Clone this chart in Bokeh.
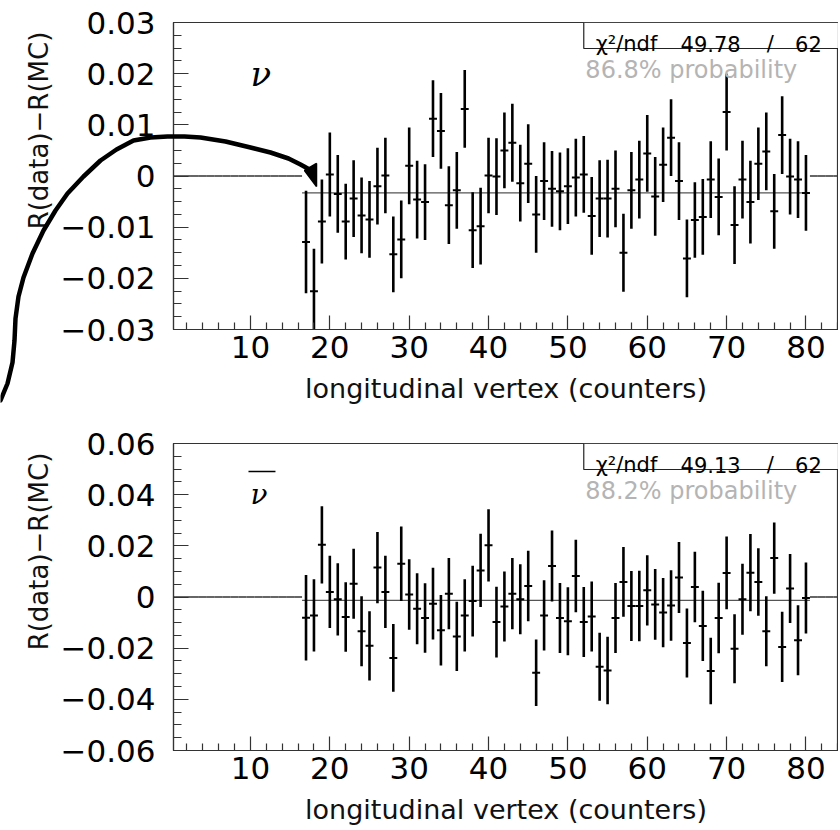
import numpy as np
from bokeh.plotting import figure
from bokeh.layouts import column
from bokeh.models import (Range1d, FixedTicker, Label, BoxAnnotation, ColumnDataSource)
from bokeh.embed import file_html
from bokeh.resources import INLINE

# ---------------- data ----------------
bins = list(range(17, 81))
empty_bins = list(range(0, 17)) + list(range(81, 85))

nu_val = [-0.0129, -0.0225, -0.0089, 0.0003, -0.0035, -0.0089, -0.0044, -0.0077,
          -0.0085, -0.0020, 0.0001, -0.0153, -0.0124, 0.0020, -0.0046, -0.0051,
          0.0112, 0.0088, -0.0057, -0.0028, 0.0131, -0.0106, -0.0098, 0.0001,
          -0.0001, 0.0050, 0.0065, -0.0014, 0.0024, -0.0075, -0.0010, -0.0025,
          -0.0030, -0.0020, -0.0003, 0.0003, -0.0078, -0.0044, -0.0044, -0.0025,
          -0.0150, -0.0028, -0.0007, 0.0044, -0.0040, 0.0022, 0.0075, -0.0010,
          -0.0161, -0.0086, -0.0080, -0.0007, -0.0041, 0.0125, -0.0096, -0.0007,
          -0.0051, 0.0024, 0.0048, -0.0069, 0.0080, -0.0001, -0.0007, -0.0033]
nu_err = [0.0100, 0.0083, 0.0082, 0.0082, 0.0076, 0.0074, 0.0075, 0.0074,
          0.0075, 0.0075, 0.0074, 0.0074, 0.0076, 0.0075, 0.0076, 0.0074,
          0.0075, 0.0074, 0.0076, 0.0075, 0.0076, 0.0074, 0.0075, 0.0074,
          0.0075, 0.0074, 0.0076, 0.0075, 0.0077, 0.0075, 0.0076, 0.0074,
          0.0076, 0.0074, 0.0076, 0.0075, 0.0076, 0.0075, 0.0076, 0.0075,
          0.0076, 0.0075, 0.0076, 0.0075, 0.0077, 0.0073, 0.0075, 0.0076,
          0.0076, 0.0074, 0.0074, 0.0075, 0.0075, 0.0075, 0.0076, 0.0076,
          0.0081, 0.0071, 0.0076, 0.0073, 0.0076, 0.0074, 0.0075, 0.0074]

nubar_val = [-0.0081, -0.0072, 0.0204, 0.0020, -0.0009, -0.0078, 0.0052, -0.0134,
             -0.0191, 0.0115, 0.0020, -0.0238, 0.0130, 0.0010, -0.0046, -0.0082,
             -0.0026, -0.0130, 0.0013, -0.0154, -0.0072, -0.0016, 0.0104, 0.0202,
             -0.0098, -0.0037, 0.0013, -0.0009, 0.0043, -0.0296, -0.0072, 0.0121,
             -0.0082, -0.0095, 0.0082, -0.0098, -0.0076, -0.0273, -0.0287, -0.0082,
             0.0059, -0.0035, -0.0035, 0.0026, -0.0029, -0.0061, -0.0033, 0.0076,
             -0.0180, 0.0039, -0.0113, -0.0289, -0.0082, 0.0094, -0.0202, -0.0009,
             0.0095, 0.0059, -0.0134, 0.0152, -0.0195, 0.0033, -0.0169, -0.0004]
nubar_err = [0.0167, 0.0141, 0.0151, 0.0141, 0.0141, 0.0136, 0.0137, 0.0137,
             0.0135, 0.0139, 0.0141, 0.0132, 0.0146, 0.0138, 0.0139, 0.0136,
             0.0140, 0.0138, 0.0139, 0.0135, 0.0141, 0.0138, 0.0143, 0.0141,
             0.0138, 0.0137, 0.0139, 0.0137, 0.0138, 0.0130, 0.0137, 0.0139,
             0.0137, 0.0133, 0.0142, 0.0137, 0.0137, 0.0133, 0.0132, 0.0137,
             0.0136, 0.0137, 0.0138, 0.0137, 0.0138, 0.0135, 0.0138, 0.0139,
             0.0135, 0.0138, 0.0137, 0.0130, 0.0138, 0.0142, 0.0135, 0.0139,
             0.0151, 0.0132, 0.0137, 0.0139, 0.0137, 0.0135, 0.0137, 0.0139]

nu_fit = -0.0033
nubar_fit = -0.0013

nu_chi2, nu_ndf, nu_prob = "49.78", "62", "86.8% probability"
nubar_chi2, nubar_ndf, nubar_prob = "49.13", "62", "88.2% probability"

x_ticks = [10, 20, 30, 40, 50, 60, 70, 80]
x_minor = [2, 4, 6, 8, 12, 14, 16, 18, 22, 24, 26, 28, 32, 34, 36, 38, 42, 44, 46, 48,
           52, 54, 56, 58, 62, 64, 66, 68, 72, 74, 76, 78, 82, 84]

nu_yticks = [-0.03, -0.02, -0.01, 0.0, 0.01, 0.02, 0.03]
nu_ylabels = ["\u22120.03", "\u22120.02", "\u22120.01", "0", "0.01", "0.02", "0.03"]
nubar_yticks = [-0.06, -0.04, -0.02, 0.0, 0.02, 0.04, 0.06]
nubar_ylabels = ["\u22120.06", "\u22120.04", "\u22120.02", "0", "0.02", "0.04", "0.06"]

x_title = "longitudinal vertex (counters)"
y_title = "R(data)\u2212R(MC)"

FONT = "DejaVu Sans"


def panel(vals, errs, fit, ylo, yhi, yticks, ylabels, ystep_minor,
          chi2, ndf, prob, border_top, border_bottom, label_text, label_size):
    p = figure(frame_width=665, frame_height=307,
               x_range=Range1d(0.3, 84.1), y_range=Range1d(ylo, yhi),
               output_backend="svg", toolbar_location=None,
               min_border_left=173, min_border_right=0,
               min_border_top=border_top, min_border_bottom=border_bottom,
               background_fill_color="white", border_fill_color="white")
    p.grid.visible = False
    p.outline_line_color = "#333333"
    p.outline_line_width = 1.2

    x = np.array(bins, dtype=float)
    v = np.array(vals)
    e = np.array(errs)
    src = ColumnDataSource(dict(x=x, v=v, lo=v - e, hi=v + e, xl=x - 0.5, xr=x + 0.5))

    # fit line
    p.segment(x0=[bins[0] - 0.5], y0=[fit], x1=[bins[-1] + 0.5], y1=[fit],
              line_color="#555555", line_width=1.3)
    # empty bins
    xe = np.array(empty_bins, dtype=float)
    esrc = ColumnDataSource(dict(xl=xe - 0.5, xr=xe + 0.5, v=np.zeros_like(xe)))
    p.segment(x0="xl", y0="v", x1="xr", y1="v", source=esrc,
              line_color="#333333", line_width=1.6)
    # error bars
    p.segment(x0="x", y0="lo", x1="x", y1="hi", source=src,
              line_color="black", line_width=2.6)
    p.segment(x0="xl", y0="v", x1="xr", y1="v", source=src,
              line_color="black", line_width=2.0)

    # axes
    yminor = list(np.round(np.arange(ylo, yhi + 1e-9, ystep_minor), 6))
    p.yaxis.ticker = FixedTicker(ticks=yticks, minor_ticks=yminor)
    p.yaxis.major_label_overrides = {t: l for t, l in zip(yticks, ylabels)}
    p.xaxis.ticker = FixedTicker(ticks=x_ticks, minor_ticks=x_minor)

    for ax in (p.xaxis[0], p.yaxis[0]):
        ax.axis_line_color = "#333333"
        ax.axis_line_width = 1.2
        ax.major_tick_line_color = "#333333"
        ax.minor_tick_line_color = "#333333"
        ax.major_tick_line_width = 1.2
        ax.minor_tick_line_width = 1.2
        ax.major_tick_out = 0
        ax.minor_tick_out = 0
        ax.major_label_text_font = FONT
        ax.major_label_text_font_size = "31px"
        ax.major_label_text_color = "black"
        ax.axis_label_text_font = FONT
        ax.axis_label_text_font_style = "normal"
        ax.axis_label_text_color = "#111111"
    p.xaxis.axis_label_text_font_size = "27px"
    p.yaxis.axis_label_text_font_size = "26px"
    p.xaxis.major_tick_in = 14
    p.xaxis.minor_tick_in = 7
    p.yaxis.major_tick_in = 15
    p.yaxis.minor_tick_in = 8
    p.xaxis.major_label_standoff = 6
    p.yaxis.major_label_standoff = 18
    p.xaxis.axis_label = x_title
    p.xaxis.axis_label_standoff = 12
    # title sits towards the upper end of the axis, as in the original
    p.yaxis.axis_label = "\u00a0" * 11 + y_title
    p.yaxis.axis_label_standoff = 4

    # statistics box
    hgt = yhi - ylo
    box_bottom = yhi - hgt * 26.0 / 307.0
    p.add_layout(BoxAnnotation(left=52.0, bottom=box_bottom, fill_color="white",
                               fill_alpha=1.0, line_color="#222222", line_alpha=1.0,
                               line_width=1.2))
    base = yhi - hgt * 21.5 / 307.0
    for txt, xx, al in (("\u03c7\u00b2/ndf", 53.5, "left"), (chi2, 64.2, "left"),
                        ("/", 75.5, "center"), (ndf, 82.0, "right")):
        p.add_layout(Label(x=xx, y=base, text=txt, text_font=FONT,
                           text_font_size="21px", text_align=al,
                           text_baseline="alphabetic", text_color="black"))
    pbase = yhi - hgt * 47.0 / 307.0
    p.add_layout(Label(x=52.2, y=pbase, text=prob, text_font=FONT,
                       text_font_size="24px", text_color="#b4b4b4",
                       text_baseline="alphabetic"))
    # particle label
    nbase = yhi - hgt * 51.0 / 307.0
    p.add_layout(Label(x=10.0, y=nbase, text=label_text, text_font="DejaVu Serif",
                       text_font_style="italic", text_font_size=label_size,
                       text_color="black", text_baseline="alphabetic"))
    return p


top = panel(nu_val, nu_err, nu_fit, -0.03, 0.03, nu_yticks, nu_ylabels, 0.0025,
            nu_chi2, nu_ndf, nu_prob, 22, 90, "\u03bd", "34px")
bot = panel(nubar_val, nubar_err, nubar_fit, -0.06, 0.06, nubar_yticks, nubar_ylabels,
            0.005, nubar_chi2, nubar_ndf, nubar_prob, 24, 75, "\u03bd", "28px")

# overline for anti-neutrino
bot.segment(x0=[9.75], y0=[0.0491], x1=[13.15], y1=[0.0491], line_color="black",
            line_width=1.5)

# curved arrow, drawn on a transparent overlay (page pixel coordinates)
curve = [(0, 400), (7, 383), (12, 362), (14, 340), (15, 318), (18, 296), (23, 277),
         (32, 253), (43, 230), (55, 210), (67, 193), (83, 176), (100, 160), (116, 149),
         (133, 140), (150, 137), (167, 136), (184, 136), (200, 137), (225, 141),
         (250, 147), (270, 152), (288, 158), (300, 164), (309, 169)]
head = [(304, 170), (316, 163), (316, 186)]

# the column aligns this overlay's left border with the panels (173 px),
# so it is shifted left by that amount to put its frame at the page origin
ov = figure(width=573, height=420, x_range=Range1d(0, 400), y_range=Range1d(420, 0),
            output_backend="svg", toolbar_location=None, min_border=0,
            x_axis_location=None, y_axis_location=None,
            background_fill_color=None, border_fill_color=None,
            outline_line_color=None,
            styles={"position": "absolute", "left": "-173px", "top": "0px",
                    "pointer-events": "none", "z-index": "10"})
ov.grid.visible = False
ov.line(x=[c[0] for c in curve], y=[c[1] for c in curve], line_color="black",
        line_width=4.5, line_join="round", line_cap="round")
ov.patch(x=[h[0] for h in head], y=[h[1] for h in head], fill_color="black",
         line_color="black", line_width=1.5)

layout = column(top, bot, ov, spacing=0)
open("out.html", "w").write(file_html(layout, INLINE))
